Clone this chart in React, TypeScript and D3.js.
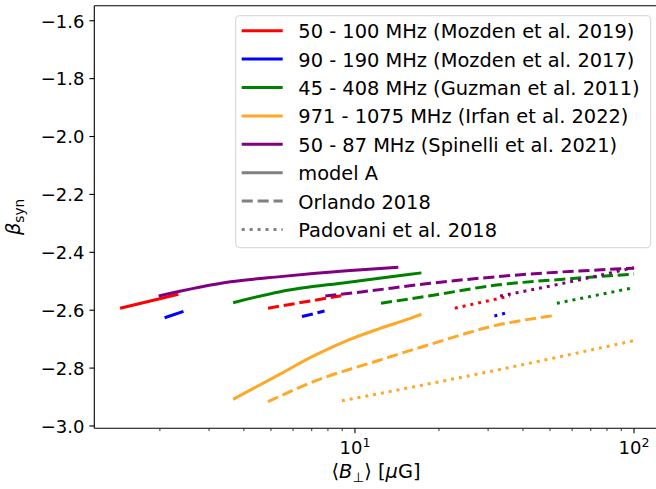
import React, { useEffect, useRef } from 'react';
import * as d3 from 'd3';

// curves: [B_perp (uG), beta_syn]
const mozden19ModelA = [[1.44, -2.593], [2.33, -2.545]];
const mozden17ModelA = [[2.08, -2.626], [2.43, -2.604]];
const guzmanModelA = [[3.66, -2.574], [5.4, -2.536], [9.36, -2.504], [15.8, -2.476], [17.3, -2.471]];
const irfanModelA = [[3.66, -2.908], [5.41, -2.82], [7.11, -2.758], [9.36, -2.705], [12.3, -2.663], [15.8, -2.628], [17.3, -2.614]];
const spinelliModelA = [[1.98, -2.551], [3.58, -2.502], [5.4, -2.484], [9.36, -2.464], [14.3, -2.452]];

const mozden19Orlando = [[4.88, -2.593], [8.93, -2.55]];
const mozden17Orlando = [[6.46, -2.622], [7.78, -2.603]];
const guzmanOrlando = [[12.4, -2.576], [18.6, -2.55], [32.2, -2.513], [55.8, -2.493], [100, -2.475]];
const irfanOrlando = [[4.88, -2.916], [7.1, -2.847], [12.3, -2.772], [18.6, -2.718], [32.2, -2.652], [51.2, -2.619]];
const spinelliOrlando = [[7.83, -2.551], [10.7, -2.536], [18.6, -2.507], [42.5, -2.475], [100, -2.455]];

const mozden19Padovani = [[22.8, -2.593], [35.9, -2.551]];
const mozden17Padovani = [[31.6, -2.62], [35.9, -2.606]];
const guzmanPadovani = [[52.9, -2.576], [100, -2.522]];
const irfanPadovani = [[8.98, -2.913], [32.2, -2.807], [100, -2.705]];
const spinelliPadovani = [[33.1, -2.551], [55.8, -2.507], [100, -2.453]];

const yTicks = [-3.0, -2.8, -2.6, -2.4, -2.2, -2.0, -1.8, -1.6];
const xMajorTicks = [10, 100];
const xMinorTicks = [2, 3, 4, 5, 6, 7, 8, 9, 20, 30, 40, 50, 60, 70, 80, 90];

const surveyLabels = [
  '50 - 100 MHz (Mozden et al. 2019)',
  '90 - 190 MHz (Mozden et al. 2017)',
  '45 - 408 MHz (Guzman et al. 2011)',
  '971 - 1075 MHz (Irfan et al. 2022)',
  '50 - 87 MHz (Spinelli et al. 2021)',
];
const modelLabels = ['model A', 'Orlando 2018', 'Padovani et al. 2018'];

const colors = ['red', 'blue', 'green', '#ffa726', 'purple'];
const dashes = [null, '11.1,4.8', '3,4.95'];

const FONT = 'DejaVu Sans, sans-serif';

function App() {
  const svgRef = useRef(null);

  useEffect(() => {
    const W = 656, H = 489;
    const left = 94.3, right = 659.7, top = 5.7, bottom = 428.3;

    const svg = d3.select(svgRef.current);
    svg.selectAll('*').remove();
    svg.attr('width', W).attr('height', H).style('font-family', FONT);

    const x = d3.scaleLog().domain([Math.pow(10, 0.066), Math.pow(10, 2.092)]).range([left, right]);
    const y = d3.scaleLinear().domain([-3.008, -1.548]).range([bottom, top]);

    const groups = [
      [mozden19ModelA, mozden17ModelA, guzmanModelA, irfanModelA, spinelliModelA],
      [mozden19Orlando, mozden17Orlando, guzmanOrlando, irfanOrlando, spinelliOrlando],
      [mozden19Padovani, mozden17Padovani, guzmanPadovani, irfanPadovani, spinelliPadovani],
    ];

    const line = d3.line()
      .x(d => x(d[0]))
      .y(d => y(d[1]))
      .curve(d3.curveMonotoneX);

    const plot = svg.append('g');
    groups.forEach((series, gi) => {
      series.forEach((pts, si) => {
        plot.append('path')
          .attr('d', line(pts))
          .attr('fill', 'none')
          .attr('stroke', colors[si])
          .attr('stroke-width', 3)
          .attr('stroke-linecap', 'butt')
          .attr('stroke-dasharray', dashes[gi]);
      });
    });

    // spines
    const axes = svg.append('g').attr('stroke', 'black').attr('stroke-width', 1.1);
    axes.append('line').attr('x1', left).attr('x2', left).attr('y1', top).attr('y2', bottom);
    axes.append('line').attr('x1', left).attr('x2', right).attr('y1', bottom).attr('y2', bottom);
    axes.append('line').attr('x1', left).attr('x2', right).attr('y1', top).attr('y2', top);
    axes.append('line').attr('x1', right).attr('x2', right).attr('y1', top).attr('y2', bottom);

    // y ticks
    yTicks.forEach(t => {
      const yy = y(t);
      axes.append('line').attr('x1', left - 4.9).attr('x2', left).attr('y1', yy).attr('y2', yy);
      svg.append('text')
        .attr('x', left - 9.8)
        .attr('y', yy + 6.8)
        .attr('text-anchor', 'end')
        .attr('font-size', 18)
        .text(d3.format('.1f')(t).replace('-', '\u2212'));
    });

    // x ticks
    xMinorTicks.forEach(t => {
      axes.append('line').attr('x1', x(t)).attr('x2', x(t)).attr('y1', bottom).attr('y2', bottom + 2.8).attr('stroke-width', 0.8);
    });
    xMajorTicks.forEach(t => {
      const xx = x(t);
      axes.append('line').attr('x1', xx).attr('x2', xx).attr('y1', bottom).attr('y2', bottom + 4.9);
      const lab = svg.append('text')
        .attr('x', xx)
        .attr('y', 454)
        .attr('text-anchor', 'middle')
        .attr('font-size', 18);
      lab.append('tspan').text('10');
      lab.append('tspan').attr('dy', -7.5).attr('font-size', 12.6).text(String(Math.round(Math.log10(t))));
    });

    // axis labels
    const xl = svg.append('text')
      .attr('x', (left + right) / 2 - 1)
      .attr('y', 478)
      .attr('text-anchor', 'middle')
      .attr('font-size', 19.4);
    xl.append('tspan').text('\u27E8');
    xl.append('tspan').attr('font-style', 'italic').text('B');
    xl.append('tspan').attr('dy', 3.5).attr('font-size', 13.6).text('\u22A5');
    xl.append('tspan').attr('dy', -3.5).text('\u27E9 [');
    xl.append('tspan').attr('font-style', 'italic').text('\u03BC');
    xl.append('tspan').text('G]');

    const yl = svg.append('text')
      .attr('transform', `translate(20,${(top + bottom) / 2}) rotate(-90)`)
      .attr('text-anchor', 'middle')
      .attr('font-size', 19.4);
    yl.append('tspan').attr('font-style', 'italic').text('\u03B2');
    yl.append('tspan').attr('dy', 3.5).attr('font-size', 13.6).text('syn');

    // legend
    const lg = svg.append('g');
    lg.append('rect')
      .attr('x', 235.7).attr('y', 15.7)
      .attr('width', 415).attr('height', 232)
      .attr('rx', 4)
      .attr('fill', 'white').attr('fill-opacity', 0.8)
      .attr('stroke', '#d3d3d3').attr('stroke-width', 1);

    const entries = [
      ...surveyLabels.map((l, i) => ({ label: l, color: colors[i], dash: null })),
      ...modelLabels.map((l, i) => ({ label: l, color: 'gray', dash: dashes[i] })),
    ];
    entries.forEach((e, i) => {
      const cy = 30.7 + i * 28.4;
      lg.append('line')
        .attr('x1', 241.7).attr('x2', 282.7)
        .attr('y1', cy).attr('y2', cy)
        .attr('stroke', e.color)
        .attr('stroke-width', 3)
        .attr('stroke-dasharray', e.dash);
      lg.append('text')
        .attr('x', 298.3)
        .attr('y', cy + 7.5)
        .attr('font-size', 19.4)
        .text(e.label);
    });
  }, []);

  return (
    <svg ref={svgRef} style={{ position: 'absolute', left: 0, top: 0 }}></svg>
  );
}

export default App;
